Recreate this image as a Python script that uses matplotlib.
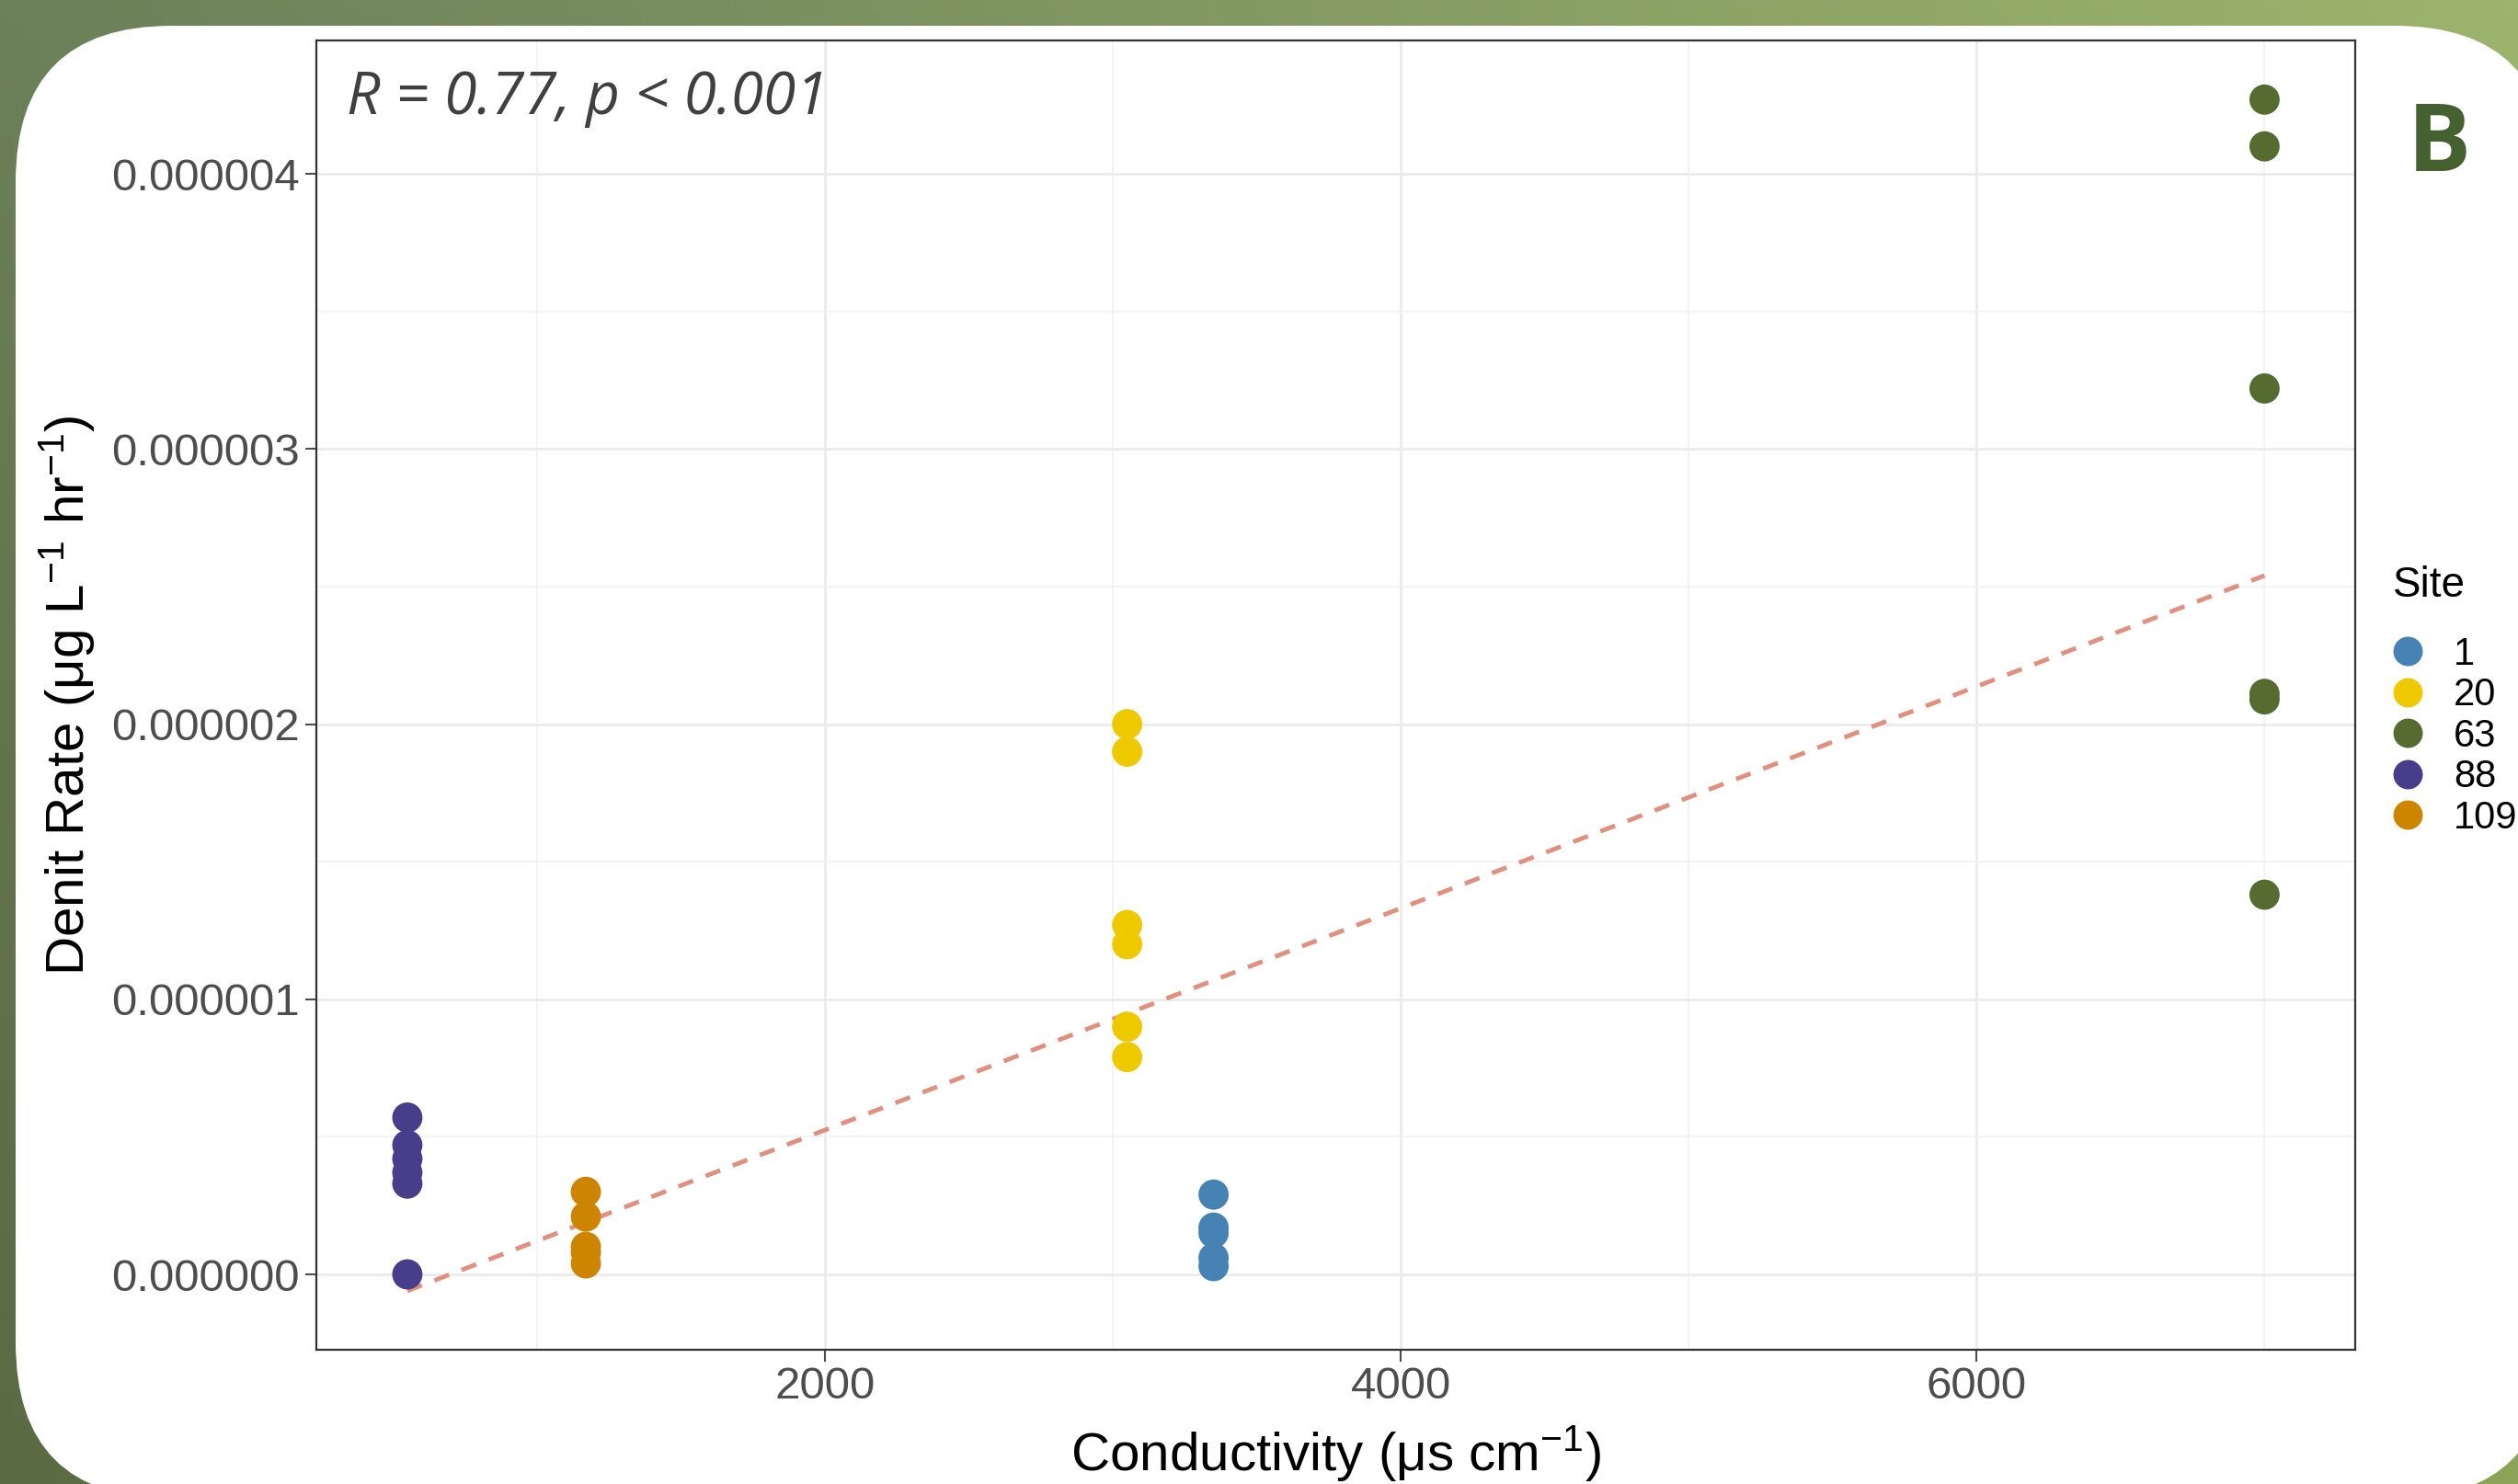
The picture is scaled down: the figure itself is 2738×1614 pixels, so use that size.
import numpy as np
import matplotlib
matplotlib.use('Agg')
import matplotlib.pyplot as plt
from matplotlib.patches import FancyBboxPatch
from matplotlib.lines import Line2D

plt.rcParams['font.family'] = ['Liberation Sans', 'DejaVu Sans']
plt.rcParams['mathtext.fontset'] = 'custom'
plt.rcParams['mathtext.rm'] = 'Liberation Sans'
plt.rcParams['mathtext.it'] = 'Liberation Sans:italic'

# Data
sites = ['1', '20', '63', '88', '109']
site_colors = ['#4682b4', '#eec900', '#556b2f', '#483d8b', '#cd8500']
site_x = [3350, 3050, 7000, 550, 1170]
site_y = [
    [0.29e-6, 0.17e-6, 0.15e-6, 0.06e-6, 0.03e-6],
    [2.00e-6, 1.90e-6, 1.27e-6, 1.20e-6, 0.90e-6, 0.79e-6],
    [4.27e-6, 4.10e-6, 3.22e-6, 2.11e-6, 2.09e-6, 1.38e-6],
    [0.57e-6, 0.47e-6, 0.42e-6, 0.37e-6, 0.33e-6, 0.0],
    [0.30e-6, 0.21e-6, 0.10e-6, 0.08e-6, 0.04e-6],
]
fit_x = [550, 7000]
fit_y = [-0.06e-6, 2.54e-6]

x_ticks = [2000, 4000, 6000]
y_ticks = [0, 1e-6, 2e-6, 3e-6, 4e-6]
y_ticklabels = ['0.000000', '0.000001', '0.000002', '0.000003', '0.000004']

W, H = 2738, 1614
fig = plt.figure(figsize=(W / 100, H / 100), dpi=100)

# green gradient backdrop
bg = fig.add_axes([0, 0, 1, 1])
gx = np.linspace(0, 1, 200)[None, :, None]
gy = np.linspace(0, 1, 120)[:, None, None]
tl = np.array([0x6c, 0x80, 0x5a]) / 255
tr = np.array([0x9c, 0xb4, 0x6c]) / 255
bl = np.array([0x5a, 0x6a, 0x42]) / 255
br = np.array([0x8c, 0xa4, 0x58]) / 255
img = (1 - gy) * ((1 - gx) * tl + gx * tr) + gy * ((1 - gx) * bl + gx * br)
bg.imshow(img, extent=[0, W, H, 0], aspect='auto')
bg.set_xlim(0, W)
bg.set_ylim(H, 0)
bg.axis('off')

# white rounded card
card = FancyBboxPatch((17 + 170, 28 + 170), 2774 - 17 - 340, 1630 - 28 - 340,
                      boxstyle='round,pad=170', fc='white', ec='none')
bg.add_patch(card)

ax = fig.add_axes([344 / W, 1 - 1468 / H, (2561 - 344) / W, (1468 - 44) / H])
ax.set_facecolor('white')

for s, c, x, ys in zip(sites, site_colors, site_x, site_y):
    ax.scatter([x] * len(ys), ys, s=560, color=c, edgecolors='none', zorder=3, label=s)

ax.plot(fit_x, fit_y, color='#e0907f', lw=3.5, dashes=(3.5, 3), zorder=2)

ax.set_xlim(234, 7315)
ax.set_ylim(-0.274e-6, 4.485e-6)
ax.set_xticks(x_ticks)
ax.set_xticks([1000, 3000, 5000, 7000], minor=True)
ax.set_yticks(y_ticks)
ax.set_yticklabels(y_ticklabels)
ax.set_yticks([0.5e-6, 1.5e-6, 2.5e-6, 3.5e-6], minor=True)
ax.grid(which='major', color='#ebebeb', lw=2)
ax.grid(which='minor', color='#f2f2f2', lw=1.2)
ax.set_axisbelow(True)
ax.tick_params(which='major', labelsize=35.5, labelcolor='#4d4d4d', color='#4d4d4d',
               length=9, width=1.5, pad=4)
ax.tick_params(which='minor', length=0)
for sp in ax.spines.values():
    sp.set_color('#333333')
    sp.set_linewidth(1.6)

ax.set_xlabel('Conductivity (μs cm$^{-1}$)', fontsize=42, labelpad=12)
ax.set_ylabel('Denit Rate (μg L$^{-1}$ hr$^{-1}$)', fontsize=42, labelpad=12)

ax.text(0.015, 0.978, 'R = 0.77, p < 0.001', transform=ax.transAxes, ha='left', va='top',
        fontsize=46, style='italic', color='#404040',
        family=['Liberation Sans Narrow', 'Open Sans'])

fig.text(2652 / W, 1 - 160 / H, 'B', fontsize=74, fontweight='bold', color='#466130',
         ha='center', va='center', family=['Open Sans', 'DejaVu Sans'])

# legend: title set apart, as ggplot leaves a wider gap under it
fig.text(2602 / W, 1 - 637 / H, 'Site', fontsize=33, ha='left', va='center')
handles = [Line2D([], [], marker='o', ls='none', ms=23, color=c, mec='none') for c in site_colors]
leg = fig.legend(handles, sites, loc='upper left',
                 bbox_to_anchor=(2585 / W, 1 - 675 / H), frameon=False,
                 fontsize=30, labelspacing=0.11,
                 handlelength=0.8, handletextpad=0.8, borderaxespad=0)

fig.savefig('out.png', dpi=100)
